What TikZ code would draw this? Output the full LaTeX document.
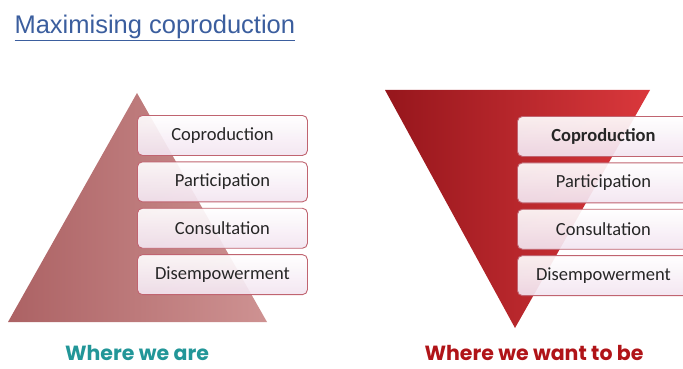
\documentclass[tikz,border=0pt]{standalone}
\usepackage{fontspec}
\setmainfont{Carlito}
\newfontfamily\headfont{Liberation Sans}
\newfontfamily\labfont{Poppins}
\usetikzlibrary{positioning}
\definecolor{titleblue}{RGB}{59,94,158}
\definecolor{rosedark}{RGB}{172,98,100}
\definecolor{roselight}{RGB}{206,146,146}
\definecolor{reddark}{RGB}{150,22,28}
\definecolor{redlight}{RGB}{218,56,60}
\definecolor{lvledge}{RGB}{192,100,112}
\definecolor{lvlfill}{RGB}{242,228,240}
\definecolor{tealtxt}{RGB}{34,150,152}
\definecolor{redtxt}{RGB}{176,20,24}
\tikzset{
  lvl/.style  ={draw=lvledge,line width=0.9pt,rounded corners=5pt,
                top color=white,bottom color=lvlfill,fill opacity=0.92,
                text opacity=1,minimum width=170pt,minimum height=40pt,
                font=\fontsize{18.5}{21}\selectfont,text=black!85},
  head/.style ={font=\headfont\fontsize{25.5}{30}\selectfont,text=titleblue,
                anchor=west},
  lab/.style  ={font=\labfont\bfseries\fontsize{20.5}{24}\selectfont,
                inner sep=0pt,anchor=base},
}
\begin{document}
\begin{tikzpicture}[x=1pt,y=-1pt]
\clip (0,0) rectangle (683,369);
\useasboundingbox (0,0) rectangle (683,369);
% title
\node[head] (T) at (11,28) {\underline{Maximising coproduction}};
% where we are
\shade[left color=rosedark,right color=roselight] (137,93) -- (267,322) -- (8,322) -- cycle;
\node[lvl,anchor=north west] (L1) at (137,115) {Coproduction};
\node[lvl,below=5.5pt of L1] (L2) {Participation};
\node[lvl,below=5.5pt of L2] (L3) {Consultation};
\node[lvl,below=5.5pt of L3] (L4) {Disempowerment};
% where we want to be
\shade[shading angle=60,left color=reddark,right color=redlight] (385,90) -- (650,90) -- (515,328) -- cycle;
\node[lvl,anchor=north west,minimum width=172pt] (R1) at (517,116) {\textbf{Coproduction}};
\node[lvl,minimum width=172pt,below=5.5pt of R1] (R2) {Participation};
\node[lvl,minimum width=172pt,below=5.5pt of R2] (R3) {Consultation};
\node[lvl,minimum width=172pt,below=5.5pt of R3] (R4) {Disempowerment};
% captions
\node[lab,text=tealtxt] (A) at (137,360) {Where we are};
\node[lab,text=redtxt] (B) at (534,360) {Where we want to be};
\end{tikzpicture}
\end{document}
